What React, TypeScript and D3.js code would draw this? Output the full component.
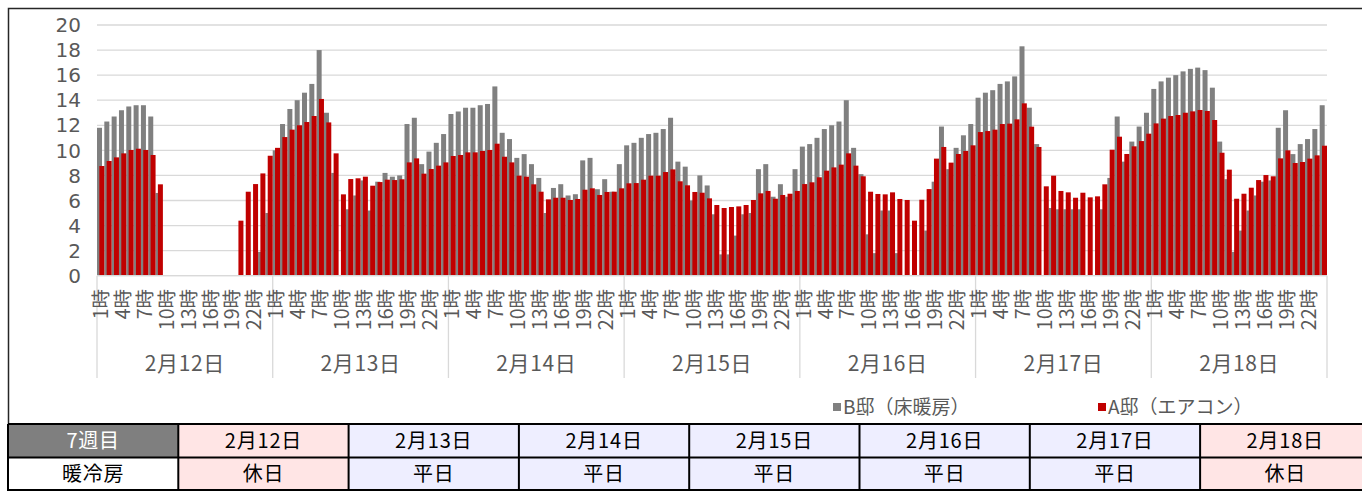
import React from 'react';
import * as d3 from 'd3';

const days = ['2月12日', '2月13日', '2月14日', '2月15日', '2月16日', '2月17日', '2月18日'];
const hours = d3.range(1, 25).map((h) => `${h}時`);
const shownHours = ['1時', '4時', '7時', '10時', '13時', '16時', '19時', '22時'];
const dayTypes = ['休日', '平日', '平日', '平日', '平日', '平日', '休日'];
const weekLabel = '7週目';
const rowLabel = '暖冷房';
const yTicks = [0, 2, 4, 6, 8, 10, 12, 14, 16, 18, 20];
const seriesNames = ['B邸（床暖房）', 'A邸（エアコン）'];

const n = null;
// B邸（床暖房） hourly values, day by day
const houseB: (number | null)[] = [
  11.8, 12.3, 12.7, 13.2, 13.5, 13.6, 13.6, 12.7, 6.6, n, n, n, n, n, n, n, n, n, n, n, n, n, 1.9, 5.0,
  10.0, 12.1, 13.3, 14.0, 14.6, 15.3, 18.0, 13.0, 8.2, n, 5.3, 6.4, 7.6, 5.2, 7.5, 8.2, 7.9, 8.0, 12.1, 12.6, 8.9, 9.9, 10.6, 11.3,
  12.9, 13.1, 13.4, 13.4, 13.6, 13.7, 15.1, 11.4, 10.9, 9.4, 9.7, 8.9, 7.8, 5.0, 7.0, 7.3, 6.4, 6.5, 9.2, 9.4, 6.9, 7.7, 6.7, 8.9,
  10.4, 10.6, 11.0, 11.3, 11.4, 11.7, 12.6, 9.1, 8.7, 6.0, 8.0, 7.2, 4.9, 1.7, 1.7, 3.2, 4.9, 5.0, 8.5, 8.9, 6.3, 7.3, 6.3, 8.5,
  10.3, 10.5, 11.0, 11.7, 12.0, 12.3, 14.0, 10.2, 8.1, 3.3, 1.8, 5.2, 5.2, 1.8, n, n, n, 3.6, 7.5, 11.9, 8.5, 10.2, 11.2, 12.1,
  14.2, 14.6, 14.8, 15.3, 15.5, 15.9, 18.3, 13.4, 10.5, n, 5.4, 5.3, 5.3, 5.3, 5.3, n, n, 5.3, 7.8, 12.7, 9.1, 10.7, 11.9, 13.0,
  14.9, 15.5, 15.8, 16.0, 16.3, 16.5, 16.6, 16.4, 15.0, 10.7, 7.7, 1.9, 3.6, 5.2, 6.4, 7.5, 7.6, 11.8, 13.2, 9.7, 10.5, 10.9, 11.7, 13.6,
];
// A邸（エアコン） hourly values, day by day
const houseA: (number | null)[] = [
  8.75, 9.15, 9.44, 9.76, 10.03, 10.13, 10.03, 9.63, 7.29, n, n, n, n, n, n, n, n, n, n, 4.39, 6.7, 7.31, 8.16, 9.57,
  10.2, 11.06, 11.65, 12.0, 12.26, 12.74, 14.1, 12.23, 9.76, 6.49, 7.71, 7.77, 7.9, 7.18, 7.47, 7.66, 7.63, 7.69, 9.04, 9.36, 8.14, 8.51, 8.78, 9.04,
  9.55, 9.63, 9.84, 9.84, 9.95, 10.03, 10.53, 9.49, 9.04, 7.98, 7.9, 7.29, 6.7, 6.09, 6.22, 6.22, 6.04, 6.12, 6.86, 6.97, 6.44, 6.68, 6.7, 6.97,
  7.37, 7.39, 7.66, 7.98, 7.98, 8.27, 8.48, 7.53, 7.21, 6.68, 6.62, 6.17, 5.64, 5.4, 5.48, 5.53, 5.64, 6.04, 6.57, 6.76, 6.14, 6.44, 6.54, 6.76,
  7.31, 7.45, 7.85, 8.38, 8.64, 8.86, 9.76, 8.78, 7.93, 6.7, 6.52, 6.49, 6.65, 6.12, 6.04, 4.39, 6.06, 6.91, 9.34, 10.27, 9.02, 9.71, 9.95, 10.4,
  11.46, 11.54, 11.65, 12.1, 12.13, 12.47, 13.75, 11.89, 10.27, 7.13, 7.98, 6.76, 6.65, 6.22, 6.62, 6.25, 6.33, 7.29, 10.05, 11.09, 9.71, 10.32, 10.74, 11.33,
  12.15, 12.53, 12.74, 12.82, 13.0, 13.11, 13.22, 13.14, 12.42, 9.81, 8.46, 6.14, 6.54, 7.02, 7.63, 8.03, 7.93, 9.36, 10.0, 8.99, 9.07, 9.34, 9.6, 10.37,
];

const W = 1362;
const H = 491;
const FONT = '"Noto Sans CJK JP", "Noto Sans", sans-serif';
const NUMFONT = '"DejaVu Sans", sans-serif';
const TXT = '#595959';
const GRID = '#d9d9d9';
const GRAY = '#808080';
const RED = '#c00000';
const PINK = '#ffe5e5';
const LAV = '#eeeeff';

export default function App() {
  const cats = days.flatMap((d) => hours.map((h) => `${d}|${h}`));
  const x = d3.scaleBand<string>().domain(cats).range([97, 1327]).padding(0);
  const y = d3.scaleLinear().domain([0, 20]).range([275.7, 25]);
  const bw = x.bandwidth();
  const barW = bw * 0.683;
  const offset = bw - barW;
  const dayW = (1327 - 97) / days.length;

  const colX = d3.range(0, 9).map((k) => 8 + 170.3 * k);
  const rowY = [424, 457.5, 491];

  return (
    <svg width={W} height={H} style={{ position: 'absolute', left: 0, top: 0 }} fontFamily={FONT}>
      <rect x={0} y={0} width={W} height={H} fill="#fff" />
      {/* grid */}
      {yTicks.map((t) => (
        <g key={t}>
          <line x1={97} x2={1327} y1={y(t)} y2={y(t)} stroke={GRID} strokeWidth={1.3} />
          <text x={81} y={y(t)} dy="0.36em" textAnchor="end" fontSize={20} fontFamily={NUMFONT} fill={TXT}>
            {t}
          </text>
        </g>
      ))}
      {/* bars B */}
      {cats.map((c, i) =>
        houseB[i] == null ? null : (
          <rect key={'b' + c} x={x(c)!} y={y(houseB[i] as number)} width={barW} height={y(0) - y(houseB[i] as number)} fill={GRAY} />
        )
      )}
      {/* bars A */}
      {cats.map((c, i) =>
        houseA[i] == null ? null : (
          <rect key={'a' + c} x={x(c)! + offset} y={y(houseA[i] as number)} width={barW} height={y(0) - y(houseA[i] as number)} fill={RED} />
        )
      )}
      {/* axis line */}
      <line x1={97} x2={1327} y1={y(0)} y2={y(0)} stroke={GRID} strokeWidth={1.3} />
      {/* day separators */}
      {d3.range(0, days.length + 1).map((k) => (
        <line key={'sep' + k} x1={97 + dayW * k} x2={97 + dayW * k} y1={y(0)} y2={378} stroke={GRID} strokeWidth={1.3} />
      ))}
      {/* hour labels */}
      {cats.map((c) => {
        const h = c.split('|')[1];
        if (!shownHours.includes(h)) return null;
        const cx = x(c)! + bw / 2;
        return (
          <text key={'h' + c} transform={`translate(${cx},289) rotate(-90)`} textAnchor="end" dy="0.36em" fontSize={19.5} fill={TXT}>
            {h}
          </text>
        );
      })}
      {/* day labels */}
      {days.map((d, k) => (
        <text key={'d' + d} x={97 + dayW * (k + 0.5)} y={364} dy="0.35em" textAnchor="middle" fontSize={21} letterSpacing={0.6} fill={TXT}>
          {d}
        </text>
      ))}
      {/* legend */}
      <rect x={833} y={403} width={8} height={8} fill={GRAY} />
      <text x={843} y={407} dy="0.35em" fontSize={19} fill={TXT}>
        {seriesNames[0]}
      </text>
      <rect x={1098} y={403} width={8} height={8} fill={RED} />
      <text x={1108} y={407} dy="0.35em" fontSize={19} fill={TXT}>
        {seriesNames[1]}
      </text>
      {/* outer border */}
      <path d={`M8.5,${H} V8.5 H${W}`} fill="none" stroke="#262626" strokeWidth={1.5} />
      {/* table */}
      {d3.range(0, 8).map((k) => {
        const fillTop = k === 0 ? '#7f7f7f' : dayTypes[k - 1] === '休日' ? PINK : LAV;
        const fillBot = k === 0 ? '#ffffff' : dayTypes[k - 1] === '休日' ? PINK : LAV;
        const cx = (colX[k] + colX[k + 1]) / 2;
        return (
          <g key={'col' + k}>
            <rect x={colX[k]} y={rowY[0]} width={colX[k + 1] - colX[k]} height={rowY[1] - rowY[0]} fill={fillTop} />
            <rect x={colX[k]} y={rowY[1]} width={colX[k + 1] - colX[k]} height={rowY[2] - rowY[1]} fill={fillBot} />
            <text x={cx} y={(rowY[0] + rowY[1]) / 2} dy="0.35em" textAnchor="middle" fontSize={20} letterSpacing={0.8} fill={k === 0 ? '#fff' : '#000'}>
              {k === 0 ? weekLabel : days[k - 1]}
            </text>
            <text x={cx} y={(rowY[1] + rowY[2]) / 2} dy="0.35em" textAnchor="middle" fontSize={20} letterSpacing={0.8} fill="#000">
              {k === 0 ? rowLabel : dayTypes[k - 1]}
            </text>
          </g>
        );
      })}
      {rowY.slice(0, 2).map((ry) => (
        <line key={'ry' + ry} x1={8} x2={W} y1={ry} y2={ry} stroke="#000" strokeWidth={2} />
      ))}
      <line x1={8} x2={W} y1={490} y2={490} stroke="#000" strokeWidth={2} />
      {colX.slice(0, 8).map((cx) => (
        <line key={'cx' + cx} x1={cx} x2={cx} y1={rowY[0]} y2={H} stroke="#000" strokeWidth={2} />
      ))}
    </svg>
  );
}
